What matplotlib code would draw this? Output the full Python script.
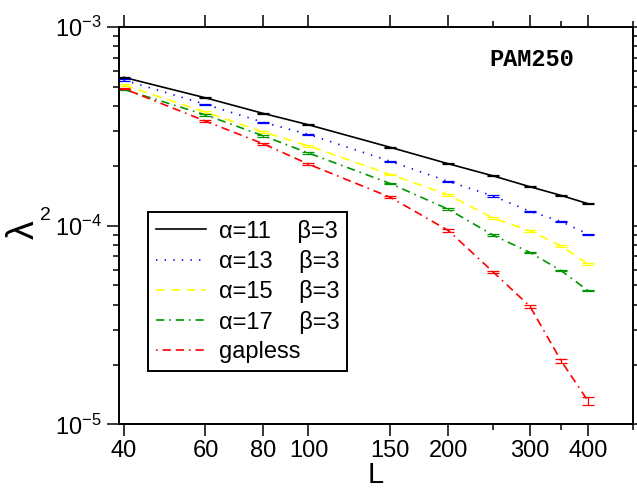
import matplotlib
matplotlib.use('Agg')
import matplotlib.pyplot as plt
from matplotlib.ticker import FixedLocator, NullFormatter, LogLocator

plt.rcParams['font.family'] = ['Liberation Sans', 'DejaVu Sans']
plt.rcParams['mathtext.fontset'] = 'custom'
plt.rcParams['mathtext.rm'] = 'Liberation Sans'
plt.rcParams['mathtext.it'] = 'Liberation Sans'
plt.rcParams['axes.unicode_minus'] = False
plt.rcParams['lines.scale_dashes'] = False

L = [40, 60, 80, 100, 150, 200, 250, 300, 350, 400]

lam_a11 = [5.58e-4, 4.40e-4, 3.67e-4, 3.22e-4, 2.48e-4, 2.05e-4, 1.78e-4, 1.57e-4, 1.42e-4, 1.29e-4]
lam_a13 = [5.41e-4, 4.08e-4, 3.31e-4, 2.88e-4, 2.11e-4, 1.67e-4, 1.41e-4, 1.18e-4, 1.05e-4, 9.06e-5]
lam_a15 = [5.10e-4, 3.73e-4, 2.96e-4, 2.52e-4, 1.81e-4, 1.43e-4, 1.09e-4, 9.41e-5, 7.91e-5, 6.40e-5]
lam_a17 = [4.85e-4, 3.61e-4, 2.83e-4, 2.32e-4, 1.63e-4, 1.21e-4, 8.95e-5, 7.33e-5, 5.94e-5, 4.71e-5]
lam_gapless = [4.90e-4, 3.36e-4, 2.58e-4, 2.04e-4, 1.39e-4, 9.46e-5, 5.84e-5, 3.92e-5, 2.09e-5, 1.31e-5]

err_a11 = [5e-6, 3e-6, 2e-6, 2e-6, 1.5e-6, 1.2e-6, 1e-6, 8e-7, 7e-7, 6e-7]
err_a13 = [5e-6, 3e-6, 2e-6, 2e-6, 1.5e-6, 1.2e-6, 1e-6, 8e-7, 7e-7, 6e-7]
err_a15 = [5e-6, 3e-6, 2e-6, 2e-6, 1.5e-6, 1.2e-6, 1e-6, 8e-7, 6e-7, 5e-7]
err_a17 = [5e-6, 3e-6, 2e-6, 2e-6, 1.5e-6, 1.2e-6, 8e-7, 6e-7, 5e-7, 4e-7]
err_gapless = [5e-6, 3e-6, 2e-6, 2e-6, 1.5e-6, 1.2e-6, 9e-7, 6e-7, 5e-7, 6.5e-7]

labels = [u'\u03b1=11    \u03b2=3', u'\u03b1=13    \u03b2=3', u'\u03b1=15    \u03b2=3',
          u'\u03b1=17    \u03b2=3', 'gapless']
colors = ['black', '#0000ff', '#ffff00', '#009600', '#ff0000']
styles = ['-', (0, (1.0, 5.2)), (0, (6.5, 4.5)), (0, (6.0, 3.5, 1.2, 3.5)),
          (0, (1.2, 3.5, 6.0, 3.5, 6.0, 3.5))]

series = [lam_a11, lam_a13, lam_a15, lam_a17, lam_gapless]
errors = [err_a11, err_a13, err_a15, err_a17, err_gapless]

fig = plt.figure(figsize=(6.37, 4.91), dpi=100)
ax = fig.add_axes([0.1868, 0.1358, 0.8069, 0.8092])

for y, e, c, ls, lab in zip(series, errors, colors, styles, labels):
    ax.plot(L, y, color=c, linestyle=ls, lw=1.2, label=lab)
    ax.errorbar(L, y, yerr=e, fmt='none', ecolor=c, elinewidth=0.9,
                capsize=4.3, capthick=0.9)

ax.set_xscale('log')
ax.set_yscale('log')
ax.set_xlim(39.07, 500)
ax.set_ylim(1e-5, 1e-3)

ax.xaxis.set_major_locator(FixedLocator([40, 60, 80, 100, 150, 200, 300, 400]))
ax.xaxis.set_minor_locator(FixedLocator([250, 350, 500]))
ax.xaxis.set_minor_formatter(NullFormatter())
ax.set_xticklabels(['40', '60', '80', '100', '150', '200', '300', '400'])
ax.yaxis.set_major_locator(LogLocator(base=10))
ax.yaxis.set_minor_locator(LogLocator(base=10, subs=range(2, 10)))
ax.yaxis.set_minor_formatter(NullFormatter())

ax.tick_params(which='both', direction='out', top=True, right=True, width=1.1,
               labelsize=17)
ax.tick_params(which='major', length=8.6)
ax.tick_params(which='minor', length=4.3)
ax.tick_params(axis='x', pad=3)
ax.tick_params(axis='y', pad=4)
for sp in ax.spines.values():
    sp.set_linewidth(1.4)

ax.set_xlabel('L', fontsize=21, labelpad=-1)

# y label: lambda lying on its side, subscript left upright
fig.text(0.0369, 0.5326, u'\u03bb', rotation=90, ha='center', va='center', fontsize=27)
fig.text(0.0714, 0.562, '2', ha='center', va='center', fontsize=14)

ax.text(0.803, 0.902, 'PAM250', transform=ax.transAxes, ha='center', va='baseline',
        fontsize=17, fontweight='bold', family='Liberation Mono')

leg = ax.legend(loc='lower left', bbox_to_anchor=(0.057, 0.135), fontsize=17,
                frameon=True, fancybox=False, framealpha=1, edgecolor='black',
                handlelength=2.1, handletextpad=0.55, borderpad=0.33,
                labelspacing=0.31, borderaxespad=0)
leg.get_frame().set_linewidth(1.4)

plt.savefig('out.png', dpi=100)
